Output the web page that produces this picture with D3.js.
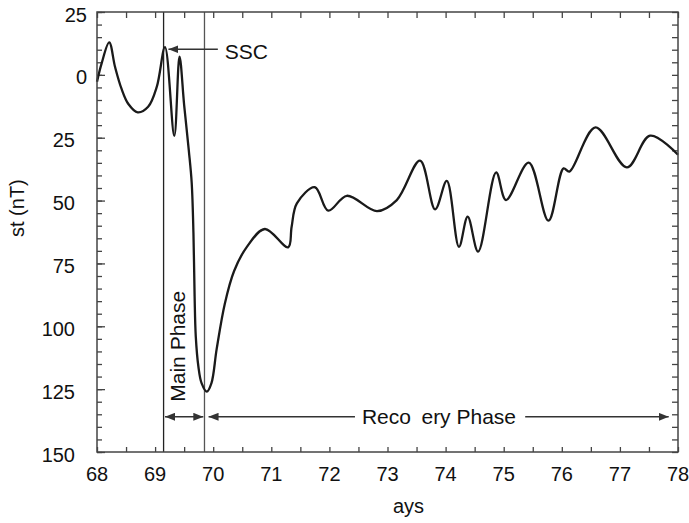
<!DOCTYPE html>
<html>
<head>
<meta charset="utf-8">
<script src="https://cdn.jsdelivr.net/npm/d3@7"></script>
<style>
  body { margin: 0; background: #fff; }
  text { font-family: "Liberation Sans", Arial, sans-serif; fill: #111; }
</style>
</head>
<body>
<div id="chart"></div>
<script>
// Dst index during the storm
var days = [68.00, 68.08, 68.21, 68.31, 68.42, 68.54, 68.70, 68.88, 69.03, 69.17,
            69.33, 69.42, 69.50, 69.58, 69.63, 69.66, 69.68, 69.70, 69.745, 69.80,
            69.89, 69.97, 70.06, 70.20, 70.36, 70.58, 70.89, 71.29, 71.35, 71.44,
            71.75, 71.98, 72.30, 72.82, 73.16, 73.56, 73.82, 74.02, 74.23, 74.38,
            74.56, 74.87, 75.04, 75.43, 75.77, 76.03, 76.13, 76.58, 77.12, 77.52,
            78.00];
var dst = [-2.7, 4.6, 12.9, 3.2, -5.4, -11.6, -14.9, -12.7, -4.7, 11.0,
           -24.3, 7.2, -12, -30, -43, -63, -88, -104, -116, -122.6,
           -126, -122.6, -109, -91, -78, -68.4, -61.3, -68.6, -60.4, -51.1,
           -44.7, -54, -48.1, -54.2, -49.8, -34.1, -53.5, -42.2, -68.4, -56.4,
           -70.3, -38.8, -49.8, -34.9, -58, -37.2, -38.5, -20.9, -36.8, -24.2,
           -31.8];

var xTicks = [68, 69, 70, 71, 72, 73, 74, 75, 76, 77, 78];
var yTicks = [25, 0, -25, -50, -75, -100, -125, -150];
var yTickLabels = ["25", "0", "25", "50", "75", "100", "125", "150"];
var phaseLines = [69.146, 69.85];   // SSC, end of main phase

var width = 689, height = 523;
var margin = {top: 12, right: 11, bottom: 71, left: 97};
var w = width - margin.left - margin.right;
var h = height - margin.top - margin.bottom;

var svg = d3.select("#chart").append("svg")
  .attr("width", width)
  .attr("height", height);

var g = svg.append("g")
  .attr("transform", "translate(" + margin.left + "," + margin.top + ")");

var x = d3.scaleLinear().domain([68, 78]).range([0, w]);
var y = d3.scaleLinear().domain([25, -150]).range([0, h]);

// ticks (all inward)
var minorX = d3.range(68, 78.001, 0.5);
var minorY = d3.range(25, -150.001, -5);

g.append("g")
  .attr("transform", "translate(0," + h + ")")
  .call(d3.axisBottom(x).tickValues(minorX).tickSize(-5).tickFormat(""))
  .call(function (s) { s.select(".domain").remove(); });
g.append("g")
  .call(d3.axisTop(x).tickValues(minorX).tickSize(-6).tickFormat(""))
  .call(function (s) { s.select(".domain").remove(); });
g.append("g")
  .call(d3.axisLeft(y).tickValues(minorY).tickSize(-5).tickFormat(""))
  .call(function (s) { s.select(".domain").remove(); });
g.append("g")
  .call(d3.axisLeft(y).tickValues(yTicks).tickSize(-8).tickFormat(""))
  .call(function (s) { s.select(".domain").remove(); });
g.append("g")
  .attr("transform", "translate(" + w + ",0)")
  .call(d3.axisRight(y).tickValues(minorY).tickSize(-6).tickFormat(""))
  .call(function (s) { s.select(".domain").remove(); });

g.selectAll(".tick line").attr("stroke", "#444").attr("stroke-width", 1.3);

// tick labels
g.append("g").selectAll("text")
  .data(xTicks)
  .enter().append("text")
  .attr("x", function (d) { return x(d); })
  .attr("y", h + 29)
  .attr("text-anchor", "middle")
  .style("font-size", "20px")
  .text(function (d) { return d; });

g.append("g").selectAll("text")
  .data(yTicks)
  .enter().append("text")
  .attr("x", function (d) { return d < 0 ? -22 : -10; })
  .attr("y", function (d) { return y(d) + 9.5; })
  .attr("text-anchor", "end")
  .style("font-size", "20px")
  .text(function (d, i) { return yTickLabels[i]; });

// phase boundaries
g.selectAll(".phase")
  .data(phaseLines)
  .enter().append("line")
  .attr("class", "phase")
  .attr("x1", function (d) { return x(d); })
  .attr("x2", function (d) { return x(d); })
  .attr("y1", 0).attr("y2", h)
  .attr("stroke", function (d, i) { return i === 0 ? "#222" : "#555"; })
  .attr("stroke-width", 1.3);

// Dst curve
var line = d3.line()
  .x(function (d, i) { return x(days[i]); })
  .y(function (d) { return y(d); })
  .curve(d3.curveCatmullRom.alpha(0.5));

g.append("path")
  .datum(dst)
  .attr("fill", "none")
  .attr("stroke", "#1a1a1a")
  .attr("stroke-width", 2.3)
  .attr("stroke-linejoin", "round")
  .attr("d", line);

// arrows
var defs = svg.append("defs");
defs.append("marker")
  .attr("id", "ah")
  .attr("viewBox", "0 0 10 8")
  .attr("refX", 10).attr("refY", 4)
  .attr("markerWidth", 10).attr("markerHeight", 8)
  .attr("markerUnits", "userSpaceOnUse")
  .attr("orient", "auto-start-reverse")
  .append("path")
  .attr("d", "M0,0L10,4L0,8Z")
  .attr("fill", "#333");

function arrow(x0, x1, v, both) {
  var a = g.append("line")
    .attr("x1", x(x0)).attr("x2", x(x1))
    .attr("y1", y(v)).attr("y2", y(v))
    .attr("stroke", "#333")
    .attr("stroke-width", 1.4)
    .attr("marker-end", "url(#ah)");
  if (both) a.attr("marker-start", "url(#ah)");
}

arrow(70.08, 69.23, 10.2, false);        // SSC
arrow(69.17, 69.83, -136, true);         // main phase
arrow(72.44, 69.92, -136, false);        // recovery, left part
arrow(75.37, 77.84, -136, false);        // recovery, right part

g.append("text")
  .attr("x", x(70.2)).attr("y", y(10.2) + 9.5)
  .style("font-size", "21px")
  .text("SSC");

g.append("text")
  .attr("x", x(72.56)).attr("y", y(-136) + 7.5)
  .style("font-size", "21px")
  .text("Reco\u2002ery Phase");

g.append("text")
  .attr("transform", "translate(" + (x(69.33) + 11) + "," + y(-130) + ") rotate(-90)")
  .style("font-size", "21px")
  .text("Main Phase");

// frame
g.append("rect")
  .attr("width", w).attr("height", h)
  .attr("fill", "none")
  .attr("stroke", "#444")
  .attr("stroke-width", 1.5);

// axis titles
svg.append("text")
  .attr("x", 393).attr("y", 513)
  .style("font-size", "20px")
  .text("ays");

svg.append("text")
  .attr("transform", "translate(24,237) rotate(-90)")
  .style("font-size", "20px")
  .text("st (nT)");
</script>
</body>
</html>
